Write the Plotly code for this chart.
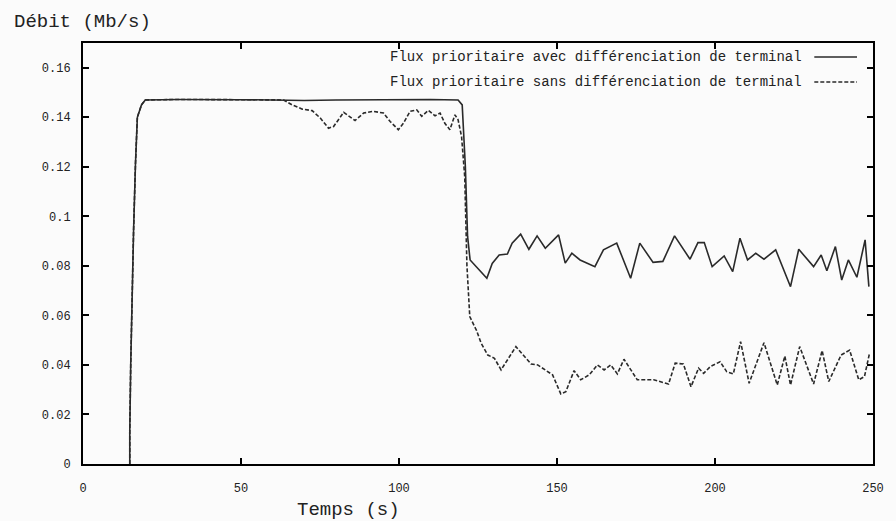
import plotly.graph_objects as go

# --- Data ---
t_avec = [14.8, 14.8, 15.1, 15.5, 16.0, 16.6, 17.2, 18.5, 19.7,
          30, 40, 50, 60, 70, 80, 90, 100, 110, 118.7,
          120.0, 121.0, 121.7, 122.5, 127.8, 129.5, 131.7, 134.3, 135.8, 138.5,
          141.1, 143.7, 146.3, 150.5, 152.6, 154.7, 157.3, 162.0, 164.7, 168.9,
          173.3, 176.2, 180.4, 183.5, 187.2, 192.1, 194.6, 196.6, 199.1, 202.9,
          205.6, 207.9, 210.3, 212.9, 215.5, 219.2, 223.9, 226.5, 231.2, 233.6,
          235.4, 238.1, 240.1, 242.2, 244.9, 247.5, 248.7]
debit_avec = [0, 0.013, 0.04, 0.067, 0.094, 0.121, 0.140, 0.145, 0.147,
              0.1472, 0.147, 0.1471, 0.147, 0.1468, 0.147, 0.1471, 0.147, 0.1472, 0.147,
              0.145, 0.12, 0.092, 0.0824, 0.075, 0.081, 0.0844, 0.0848, 0.0892, 0.0928,
              0.0867, 0.0921, 0.0871, 0.0925, 0.0811, 0.0851, 0.0824, 0.0797, 0.0865, 0.0892,
              0.075, 0.0892, 0.0814, 0.0818, 0.0921, 0.0827, 0.0894, 0.0894, 0.0797, 0.084,
              0.0777, 0.0912, 0.0824, 0.0851, 0.0827, 0.0865, 0.0716, 0.0867, 0.0797, 0.0844,
              0.078, 0.0878, 0.0743, 0.0824, 0.0754, 0.0905, 0.0716]

t_sans = [14.8, 14.8, 15.1, 15.5, 16.0, 16.6, 17.2, 18.5, 19.7,
          30, 40, 50, 63.5,
          66.2, 69.4, 72.5, 75.1, 77.7, 79.3, 82.5, 86.1, 88.8, 91.9,
          95.1, 97.2, 99.8, 101.4, 103.5, 105.6, 107.2, 109.3, 111.4, 113.0,
          114.5, 116.1, 117.7, 118.7, 119.8, 120.8, 121.5, 122.4, 124.5, 126.0,
          128.1, 130.2, 132.3, 137.0, 141.8, 143.9, 148.6, 151.2, 152.8, 155.4,
          157.5, 160.2, 162.8, 164.9, 167.0, 169.1, 171.2, 175.4, 180.6, 185.3,
          187.4, 190.0, 192.4, 194.8, 196.4, 198.5, 201.6, 203.7, 205.8, 208.1,
          210.8, 215.5, 219.7, 222.1, 223.9, 226.8, 231.2, 233.9, 236.0, 239.9,
          242.6, 245.5, 247.3, 248.9]
debit_sans = [0, 0.013, 0.04, 0.067, 0.094, 0.121, 0.140, 0.145, 0.147,
              0.1472, 0.147, 0.1471, 0.147,
              0.145, 0.1433, 0.1427, 0.1397, 0.1356, 0.1363, 0.142, 0.1387, 0.1417, 0.1424,
              0.1417, 0.1383, 0.135, 0.1376, 0.1424, 0.143, 0.1404, 0.1428, 0.1406, 0.1417,
              0.1376, 0.135, 0.141, 0.139, 0.1322, 0.116, 0.08, 0.0595, 0.054, 0.0488,
              0.044, 0.0427, 0.038, 0.0474, 0.0404, 0.040, 0.036, 0.0283, 0.0292, 0.0377,
              0.034, 0.036, 0.040, 0.038, 0.040, 0.0364, 0.0423, 0.034, 0.034, 0.0323,
              0.0407, 0.0404, 0.0312, 0.0387, 0.0366, 0.0393, 0.0413, 0.0373, 0.0364, 0.0494,
              0.0326, 0.049, 0.0319, 0.0436, 0.0319, 0.0474, 0.0323, 0.0458, 0.0333, 0.044,
              0.046, 0.034, 0.0353, 0.0447]

x_ticks = [0, 50, 100, 150, 200, 250]
y_ticks = [0, 0.02, 0.04, 0.06, 0.08, 0.1, 0.12, 0.14, 0.16]
y_tick_labels = ["0", "0.02", "0.04", "0.06", "0.08", "0.1", "0.12", "0.14", "0.16"]

name_avec = "Flux prioritaire avec différenciation de terminal"
name_sans = "Flux prioritaire sans différenciation de terminal"

MONO = "Liberation Mono, Courier New, monospace"
LINE_COLOR = "#2a2a2a"

fig = go.Figure()
fig.add_trace(go.Scatter(x=t_avec, y=debit_avec, mode="lines", name=name_avec,
                         line=dict(color=LINE_COLOR, width=1.6), showlegend=False))
fig.add_trace(go.Scatter(x=t_sans, y=debit_sans, mode="lines", name=name_sans,
                         line=dict(color=LINE_COLOR, width=1.6, dash="4px,2px"), showlegend=False))

# Legend drawn gnuplot-style: right-aligned text with the sample to its right
legend_rows = [(name_avec, 0.9667, "solid"), (name_sans, 0.9074, "4px,2px")]
for text, yp, dash in legend_rows:
    fig.add_annotation(x=0.9125, y=yp, xref="paper", yref="paper", text=text,
                       showarrow=False, xanchor="right", yanchor="middle",
                       font=dict(family=MONO, size=14, color="#222"))
    fig.add_shape(type="line", xref="paper", yref="paper", x0=0.9257, x1=0.9798,
                  y0=yp, y1=yp, line=dict(color=LINE_COLOR, width=1.4, dash=dash))

fig.add_annotation(x=-0.0894, y=1.05, xref="paper", yref="paper", text="Débit (Mb/s)",
                   showarrow=False, xanchor="left", yanchor="middle",
                   font=dict(family=MONO, size=19, color="#222"))
fig.add_annotation(x=0.336, y=-0.109, xref="paper", yref="paper", text="Temps (s)",
                   showarrow=False, xanchor="center", yanchor="middle",
                   font=dict(family=MONO, size=19, color="#222"))

fig.update_xaxes(range=[0, 250], tickvals=x_ticks, ticks="inside", ticklen=6,
                 tickwidth=1.5, tickcolor="black", showline=True, linecolor="black",
                 linewidth=2, mirror="ticks", showgrid=False, zeroline=False,
                 tickfont=dict(family=MONO, size=12, color="#222"), ticklabelstandoff=12)
fig.update_yaxes(range=[0, 0.17], tickvals=y_ticks, ticktext=y_tick_labels, ticks="inside",
                 ticklen=6, tickwidth=1.5, tickcolor="black", showline=True,
                 linecolor="black", linewidth=2, mirror="ticks", showgrid=False,
                 zeroline=False, tickfont=dict(family=MONO, size=12, color="#222"),
                 ticklabelstandoff=8)

fig.update_layout(width=896, height=521, margin=dict(l=83, r=17, t=43, b=57),
                  paper_bgcolor="#fbfbfb", plot_bgcolor="#fbfbfb")

fig.write_html("out.html", config={"displayModeBar": False},
               post_script="document.body.style.margin='0';document.body.style.overflow='hidden';")
